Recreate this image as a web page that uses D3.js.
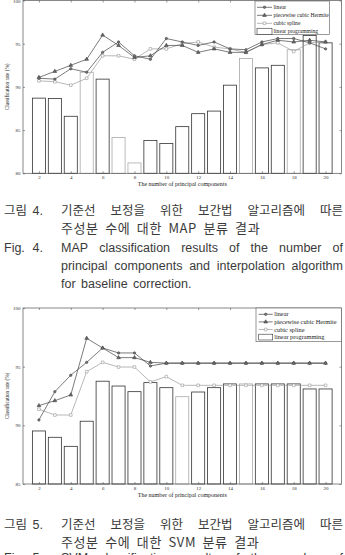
<!DOCTYPE html>
<html>
<head>
<meta charset="utf-8">
<script src="https://cdn.jsdelivr.net/npm/d3@7"></script>
<style>
  body { margin: 0; background: #fff; }
  svg { display: block; }
</style>
</head>
<body>
<svg id="chart" width="345" height="555"></svg>
<script>
// number of principal components
const pcs = [2, 3, 4, 5, 6, 7, 8, 9, 10, 11, 12, 13, 14, 15, 16, 17, 18, 19, 20];
const xTicks = [2, 4, 6, 8, 10, 12, 14, 16, 18, 20];

// Fig. 4 - MAP
const mapYTicks = [80, 85, 90, 95, 100];
const mapLinear  = [91.0, 90.9, 92.1, 91.7, 94.0, 95.2, 93.6, 93.2, 95.6, 95.2, 94.8, 95.2, 94.4, 94.3, 95.2, 95.6, 95.6, 95.1, 94.4];
const mapHermite = [91.1, 91.8, 92.5, 93.2, 96.0, 94.8, 93.4, 93.6, 94.8, 94.8, 94.0, 94.4, 94.0, 94.0, 94.9, 95.4, 95.2, 95.4, 95.2];
const mapSpline  = [90.7, 90.6, 90.2, 91.0, 93.6, 93.6, 93.2, 94.4, 94.4, 95.0, 95.2, 94.6, 94.4, 94.0, 94.9, 95.1, 94.1, 95.1, 95.2];
const mapLP      = [88.7, 88.65, 86.6, 91.7, 90.9, 84.15, 81.2, 83.8, 83.45, 85.4, 86.9, 87.2, 90.2, 93.3, 92.2, 92.5, 94.3, 95.95, 95.1];

// Fig. 5 - SVM
const svmYTicks = [85, 90, 95, 100];
const svmLinear  = [90.46, 92.87, 94.27, 95.37, 96.59, 96.17, 96.17, 95.06, 95.3, 95.3, 95.3, 95.3, 95.3, 95.3, 95.3, 95.3, 95.3, 95.3, 95.3];
const svmHermite = [91.68, 92.1, 92.59, 97.42, 96.59, 95.77, 95.77, 95.37, 95.3, 95.3, 95.3, 95.3, 95.3, 95.3, 95.3, 95.3, 95.3, 95.3, 95.3];
const svmSpline  = [91.37, 90.88, 90.88, 94.57, 95.37, 94.97, 94.97, 93.7, 94.15, 93.41, 93.41, 93.41, 93.41, 93.41, 93.41, 93.41, 93.41, 93.41, 93.41];
const svmLP      = [89.52, 88.98, 88.21, 90.35, 93.76, 93.35, 92.87, 93.64, 93.21, 92.44, 92.84, 93.21, 93.53, 93.53, 93.53, 93.53, 93.53, 93.1, 93.1];

const legendLabels = ["linear", "piecewise cubic Hermite", "cubic spline", "linear programming"];
const xTitle = "The number of principal components";
const yTitle = "Classification rate (%)";

const svg = d3.select("#chart");
const SERIF = "'Liberation Serif', 'DejaVu Serif', serif";
const DARK = "#444";
const LIGHT = "#9a9a9a";

// both panels share the x layout
const x = d3.scaleLinear().domain([1, 21]).range([23, 341.5]);
const barW = (x(2) - x(1)) * 0.82;

function drawPanel(cfg) {
  const y = d3.scaleLinear().domain(cfg.yDomain).range([cfg.bottom, cfg.top]);
  const g = svg.append("g");

  // bars (linear programming)
  g.selectAll(".bar")
    .data(pcs)
    .enter()
    .append("rect")
    .attr("class", "bar")
    .attr("x", (d) => x(d) - barW / 2)
    .attr("width", barW)
    .attr("y", (d, i) => y(cfg.lp[i]))
    .attr("height", (d, i) => cfg.bottom - y(cfg.lp[i]))
    .attr("fill", "#fff")
    .attr("stroke", (d) => (cfg.lightBars.includes(d) ? "#aaa" : "#333"))
    .attr("stroke-width", 0.8);

  // axes: matlab style box, ticks pointing inwards
  const fmt = d3.format("d");
  g.append("g")
    .attr("transform", `translate(0,${cfg.bottom})`)
    .call(d3.axisBottom(x).tickValues(xTicks).tickSize(-2).tickPadding(2).tickFormat(fmt));
  g.append("g")
    .attr("transform", `translate(0,${cfg.top})`)
    .call(d3.axisTop(x).tickValues(xTicks).tickSize(-2).tickFormat(""));
  g.append("g")
    .attr("transform", `translate(${x.range()[0]},0)`)
    .call(d3.axisLeft(y).tickValues(cfg.yTicks).tickSize(-2).tickPadding(2.5).tickFormat(fmt));
  g.append("g")
    .attr("transform", `translate(${x.range()[1]},0)`)
    .call(d3.axisRight(y).tickValues(cfg.yTicks).tickSize(-2).tickFormat(""));

  g.selectAll(".domain").remove();
  g.selectAll(".tick line").attr("stroke", "#555").attr("stroke-width", 0.6);
  g.selectAll(".tick text")
    .attr("font-family", SERIF)
    .attr("font-size", 5)
    .attr("fill", "#333");

  g.append("rect")
    .attr("x", x.range()[0])
    .attr("y", cfg.top)
    .attr("width", x.range()[1] - x.range()[0])
    .attr("height", cfg.bottom - cfg.top)
    .attr("fill", "none")
    .attr("stroke", "#555")
    .attr("stroke-width", 0.7);

  // lines
  const series = [
    { values: cfg.spline, color: LIGHT, marker: "square" },
    { values: cfg.hermite, color: DARK, marker: "triangle" },
    { values: cfg.linear, color: DARK, marker: "circle" },
  ];
  const line = d3.line().x((d) => x(d.pc)).y((d) => y(d.v));

  series.forEach((s) => {
    const pts = pcs.map((pc, i) => ({ pc: pc, v: s.values[i] }));
    g.append("path")
      .datum(pts)
      .attr("d", line)
      .attr("fill", "none")
      .attr("stroke", s.color)
      .attr("stroke-width", 0.7);
    drawMarkers(g, pts.map((p) => [x(p.pc), y(p.v)]), s);
  });

  // axis titles
  g.append("text")
    .attr("x", (x.range()[0] + x.range()[1]) / 2)
    .attr("y", cfg.bottom + 12.5)
    .attr("text-anchor", "middle")
    .attr("font-family", SERIF)
    .attr("font-size", 6)
    .attr("fill", "#222")
    .text(xTitle);
  g.append("text")
    .attr("transform", `translate(9,${(cfg.top + cfg.bottom) / 2}) rotate(-90)`)
    .attr("text-anchor", "middle")
    .attr("font-family", SERIF)
    .attr("font-size", 5.2)
    .attr("fill", "#222")
    .text(yTitle);

  // legend
  const L = cfg.legend;
  const lg = g.append("g");
  lg.append("rect")
    .attr("x", L.x0).attr("y", L.y0)
    .attr("width", L.x1 - L.x0).attr("height", L.y1 - L.y0)
    .attr("fill", "#fff").attr("stroke", "#555").attr("stroke-width", 0.6);
  legendLabels.forEach((label, i) => {
    const cy = L.firstY + i * L.step;
    if (i < 3) {
      const s = series[2 - i];
      lg.append("line")
        .attr("x1", L.sx0).attr("x2", L.sx1)
        .attr("y1", cy).attr("y2", cy)
        .attr("stroke", s.color).attr("stroke-width", 0.7);
      drawMarkers(lg, [[(L.sx0 + L.sx1) / 2, cy]], s);
    } else {
      lg.append("rect")
        .attr("x", L.sx0).attr("y", cy - L.step * 0.38)
        .attr("width", L.sx1 - L.sx0).attr("height", L.step * 0.76)
        .attr("fill", "#fff").attr("stroke", "#333").attr("stroke-width", 0.6);
    }
    lg.append("text")
      .attr("x", L.sx1 + 1.5)
      .attr("y", cy)
      .attr("dy", "0.33em")
      .attr("font-family", SERIF)
      .attr("font-size", L.fontSize)
      .attr("fill", "#222")
      .text(label);
  });
}

function drawMarkers(g, pts, s) {
  if (s.marker === "circle") {
    g.selectAll(null).data(pts).enter().append("circle")
      .attr("cx", (d) => d[0]).attr("cy", (d) => d[1]).attr("r", 1.2)
      .attr("fill", "#777").attr("stroke", s.color).attr("stroke-width", 0.6);
  } else {
    const sym = s.marker === "square"
      ? d3.symbol().type(d3.symbolSquare).size(7)
      : d3.symbol().type(d3.symbolTriangle).size(6);
    g.selectAll(null).data(pts).enter().append("path")
      .attr("transform", (d) => `translate(${d[0]},${d[1]})`)
      .attr("d", sym)
      .attr("fill", s.marker === "square" ? "#fff" : "#666")
      .attr("stroke", s.color).attr("stroke-width", 0.6);
  }
}

drawPanel({
  top: 0.5, bottom: 173.3, yDomain: [80, 100], yTicks: mapYTicks,
  linear: mapLinear, hermite: mapHermite, spline: mapSpline, lp: mapLP,
  lightBars: [5, 7, 8, 15, 18],
  legend: { x0: 255, x1: 329.5, y0: 1, y1: 34.5, firstY: 7.3, step: 8, sx0: 257, sx1: 272, fontSize: 5.6 },
});

drawPanel({
  top: 308, bottom: 484, yDomain: [85, 100], yTicks: svmYTicks,
  linear: svmLinear, hermite: svmHermite, spline: svmSpline, lp: svmLP,
  lightBars: [11, 15],
  legend: { x0: 256, x1: 341.5, y0: 308, y1: 341.7, firstY: 314.3, step: 7.6, sx0: 258.7, sx1: 272.7, fontSize: 6.3 },
});

// captions
const KO = "'Noto Sans CJK KR', sans-serif";
const EN = "'Liberation Sans', Arial, sans-serif";
const cap = svg.append("g").attr("fill", "#3a3a3a");

function addText(str, xPos, yPos, family, size) {
  return cap.append("text")
    .attr("x", xPos).attr("y", yPos)
    .attr("font-family", family).attr("font-size", size)
    .text(str);
}

// spread the words between x0 and x1
function justify(str, x0, x1, yPos, family, size) {
  const words = str.split(" ");
  const nodes = words.map((w) => addText(w, 0, yPos, family, size));
  const widths = nodes.map((n) => n.node().getComputedTextLength());
  const total = d3.sum(widths);
  const gap = (x1 - x0 - total) / (words.length - 1);
  let cx = x0;
  nodes.forEach((n, i) => {
    n.attr("x", cx);
    cx += widths[i] + gap;
  });
}

const cap4 = {
  ko1: "기준선 보정을 위한 보간법 알고리즘에 따른",
  ko2: "주성분 수에 대한 MAP 분류 결과",
  en1: "MAP classification results of the number of",
  en2: "principal components and interpolation algorithm",
  en3: "for baseline correction.",
};
const cap5 = {
  ko1: "기준선 보정을 위한 보간법 알고리즘에 따른",
  ko2: "주성분 수에 대한 SVM 분류 결과",
  en1: "SVM classification results of the number of",
};

addText("그림", 4, 214.5, KO, 12.5);
addText("4.", 32.5, 214.5, EN, 12.5);
justify(cap4.ko1, 61, 343, 214.5, KO, 12.5);
addText(cap4.ko2, 61, 233, KO, 13).attr("word-spacing", 3).attr("letter-spacing", 0.6);
addText("Fig.", 4, 251.5, EN, 12.5);
addText("4.", 32.5, 251.5, EN, 12.5);
justify(cap4.en1, 61, 343, 251.5, EN, 12.5);
justify(cap4.en2, 61, 343, 270, EN, 12.5);
addText(cap4.en3, 61, 288, EN, 12.5).attr("word-spacing", 2);

addText("그림", 4, 528.5, KO, 12.5);
addText("5.", 32.5, 528.5, EN, 12.5);
justify(cap5.ko1, 61, 343, 528.5, KO, 12.5);
addText(cap5.ko2, 61, 547, KO, 13).attr("word-spacing", 3).attr("letter-spacing", 0.6);
addText("Fig.", 4, 562, EN, 12.5);
addText("5.", 32.5, 562, EN, 12.5);
justify(cap5.en1, 61, 343, 562, EN, 12.5);
</script>
</body>
</html>
